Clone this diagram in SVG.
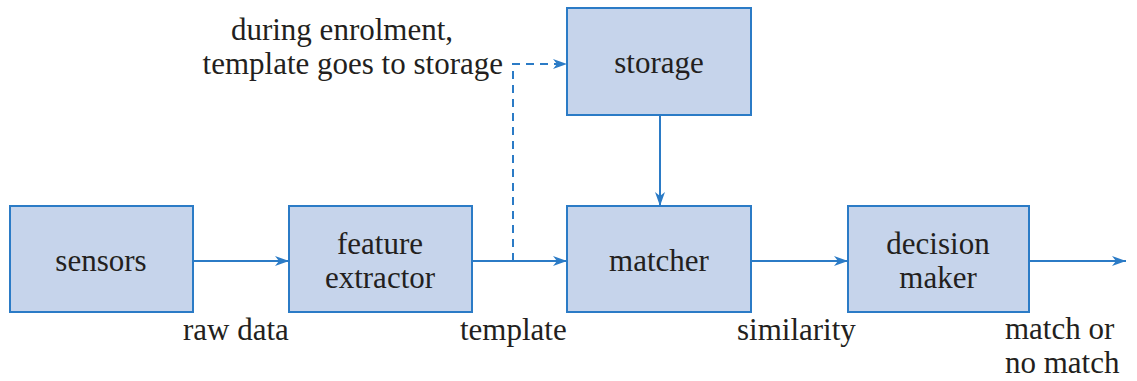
<svg xmlns="http://www.w3.org/2000/svg" width="1137" height="381" viewBox="0 0 1137 381">
<defs>
<style>
.box{fill:#c6d4eb;stroke:#2b7bc6;stroke-width:2}
.t{font-size:31px;fill:#231f20;text-anchor:middle}
.l{font-size:31px;fill:#231f20}
.c{stroke:#2b7bc6;stroke-width:2;fill:none}
</style>
<marker id="ah" viewBox="0 0 14 10" refX="14" refY="5" markerWidth="14" markerHeight="10" markerUnits="userSpaceOnUse" orient="auto">
<path d="M0,0 L14,5 L0,10 L4,5 Z" fill="#2b7bc6"/>
</marker>
</defs>
<rect width="1137" height="381" fill="#fff"/>
<g font-family="'Liberation Serif', 'DejaVu Serif', serif">
<g id="sensors"><rect class="box" x="10" y="206" width="183" height="106"/><text class="t" x="101" y="271">sensors</text></g>
<g id="feature-extractor"><rect class="box" x="289" y="206" width="183" height="106"/><text class="t" x="380" y="254">feature</text><text class="t" x="380" y="288">extractor</text></g>
<g id="storage"><rect class="box" x="567" y="8" width="184" height="107"/><text class="t" x="659" y="73">storage</text></g>
<g id="matcher"><rect class="box" x="567" y="206" width="184" height="106"/><text class="t" x="659" y="271">matcher</text></g>
<g id="decision-maker"><rect class="box" x="848" y="206" width="181" height="106"/><text class="t" x="938" y="254">decision</text><text class="t" x="938" y="288">maker</text></g>
<g id="connectors">
<line class="c" x1="193" y1="261" x2="289" y2="261" marker-end="url(#ah)"/>
<line class="c" x1="472" y1="261" x2="567" y2="261" marker-end="url(#ah)"/>
<line class="c" x1="751" y1="261" x2="848" y2="261" marker-end="url(#ah)"/>
<line class="c" x1="1029" y1="261" x2="1126" y2="261" marker-end="url(#ah)"/>
<line class="c" x1="660" y1="115" x2="660" y2="206" marker-end="url(#ah)"/>
<path class="c" d="M513,261 V64 H567" stroke-dasharray="8,6" marker-end="url(#ah)"/>
</g>
<g id="labels">
<text class="l" x="183" y="340">raw data</text>
<text class="l" x="460" y="340">template</text>
<text class="l" x="737" y="340">similarity</text>
<text class="l" x="1005" y="339">match or</text>
<text class="l" x="1005" y="373">no match</text>
<text class="t" x="342" y="40">during enrolment,</text>
<text class="l" x="503" y="74" text-anchor="end">template goes to storage</text>
</g>
</g>
</svg>
